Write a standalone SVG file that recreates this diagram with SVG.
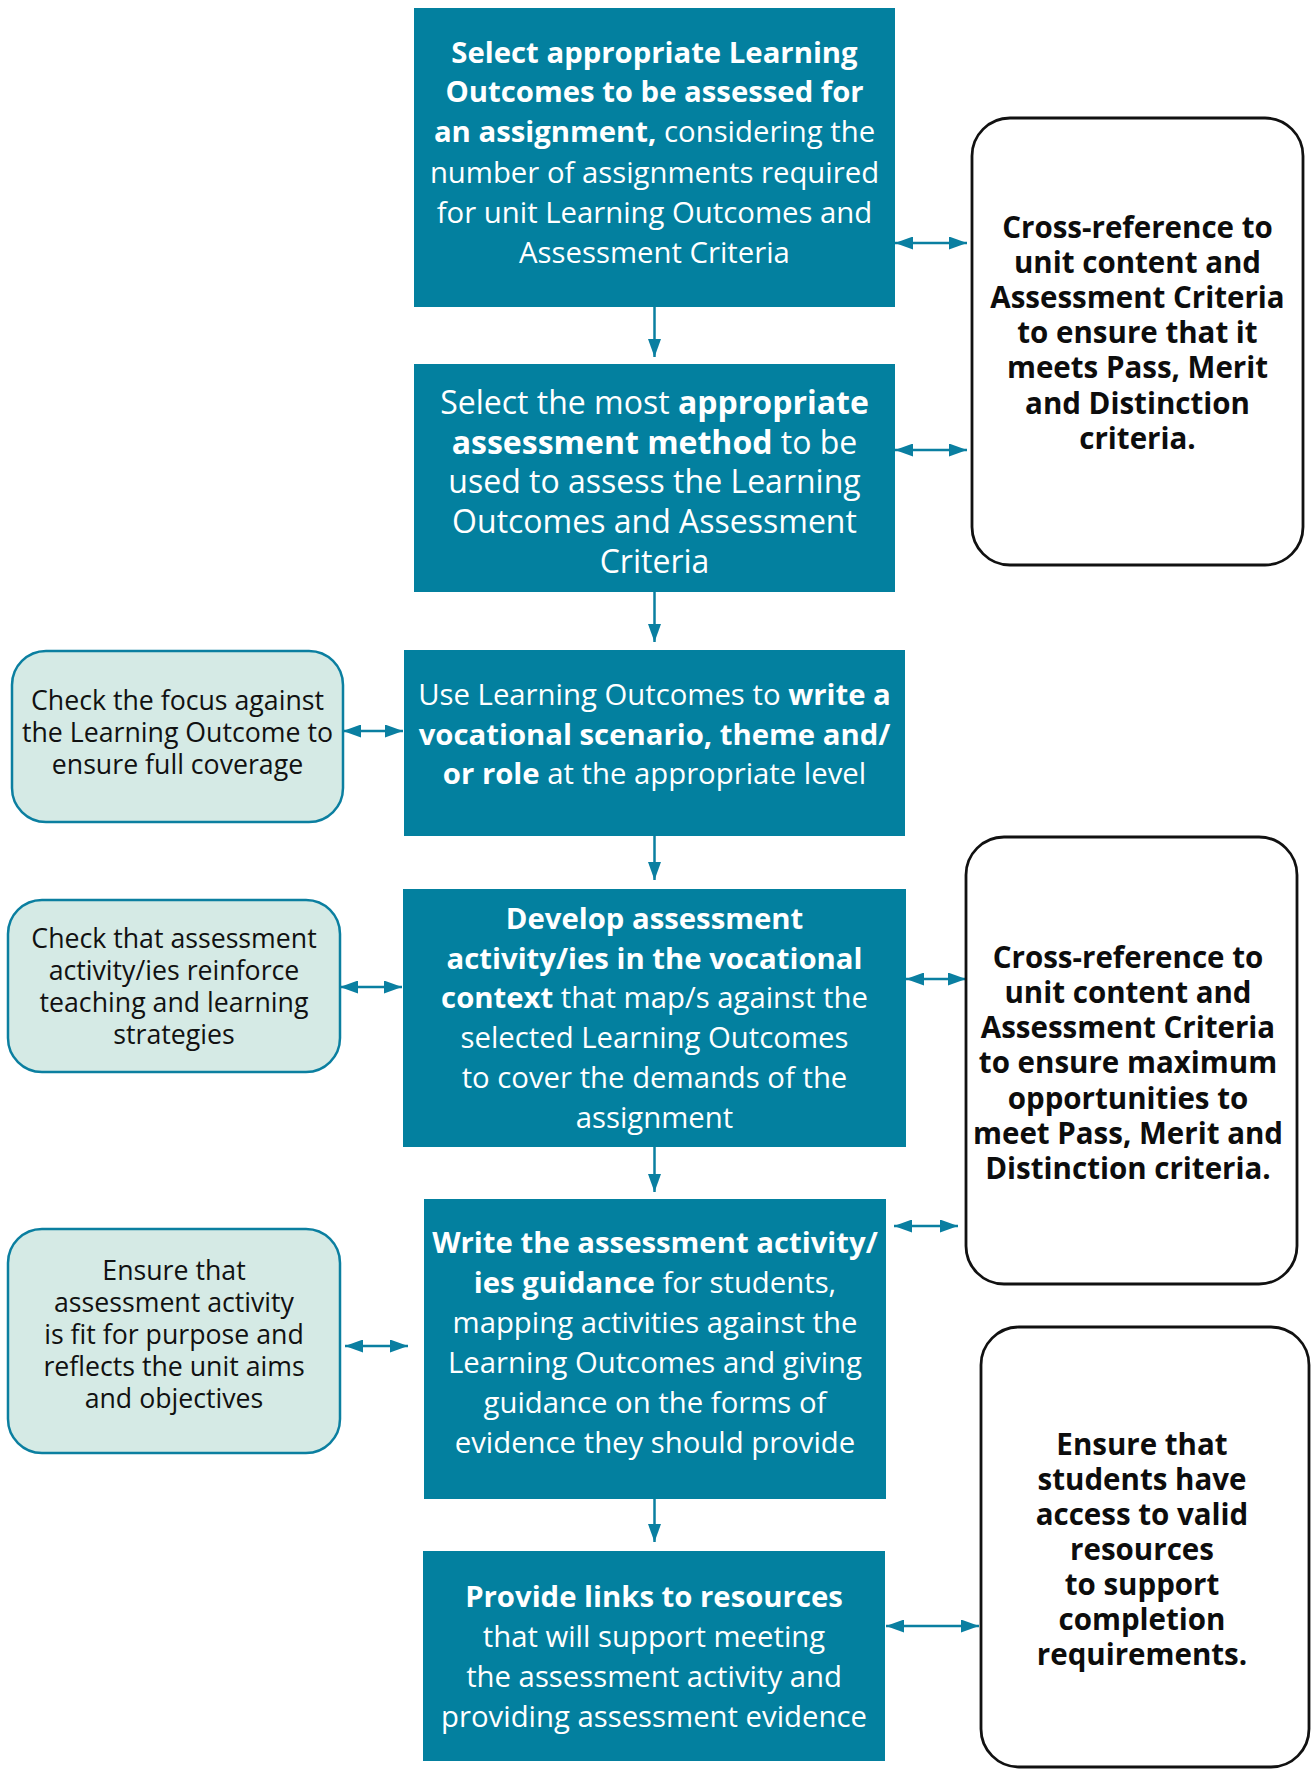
<svg xmlns="http://www.w3.org/2000/svg" width="1311" height="1769" viewBox="0 0 1311 1769">
<defs>
<marker id="ah" viewBox="0 0 18 13" refX="18" refY="6.5" markerUnits="userSpaceOnUse" markerWidth="18" markerHeight="13" orient="auto-start-reverse">
<path d="M0,0 L18,6.5 L0,13 z" fill="#0a7fa1"/>
</marker>
<style>
.main{fill:#03809f}
.wt{font-family:"Open Sans","Liberation Sans",sans-serif;font-size:29.3px;fill:#ffffff;text-anchor:middle}
.big{font-size:32px}
.b{font-weight:bold}
.side{fill:#d5eae5;stroke:#0b7fa0;stroke-width:2.5}
.st{font-family:"Open Sans","Liberation Sans",sans-serif;font-size:26.7px;fill:#111111;text-anchor:middle}
.note{fill:#ffffff;stroke:#111111;stroke-width:2.8}
.nt{font-family:"Open Sans","Liberation Sans",sans-serif;font-size:29.5px;font-weight:bold;fill:#0d0d0d;text-anchor:middle}
.c{fill:none;stroke:#0a7fa1;stroke-width:2.5}
</style>
</defs>
<rect width="1311" height="1769" fill="#ffffff"/>

<g id="connectors">
<line class="c" x1="654.5" y1="307" x2="654.5" y2="357" marker-end="url(#ah)"/>
<line class="c" x1="654.5" y1="592" x2="654.5" y2="642" marker-end="url(#ah)"/>
<line class="c" x1="654.5" y1="836" x2="654.5" y2="880" marker-end="url(#ah)"/>
<line class="c" x1="654.5" y1="1147" x2="654.5" y2="1192" marker-end="url(#ah)"/>
<line class="c" x1="654.5" y1="1499" x2="654.5" y2="1542" marker-end="url(#ah)"/>
<line class="c" x1="895" y1="243" x2="967" y2="243" marker-start="url(#ah)" marker-end="url(#ah)"/>
<line class="c" x1="895" y1="450" x2="967" y2="450" marker-start="url(#ah)" marker-end="url(#ah)"/>
<line class="c" x1="343" y1="731" x2="403" y2="731" marker-start="url(#ah)" marker-end="url(#ah)"/>
<line class="c" x1="340" y1="987" x2="402" y2="987" marker-start="url(#ah)" marker-end="url(#ah)"/>
<line class="c" x1="906" y1="979" x2="966" y2="979" marker-start="url(#ah)" marker-end="url(#ah)"/>
<line class="c" x1="894" y1="1226" x2="958" y2="1226" marker-start="url(#ah)" marker-end="url(#ah)"/>
<line class="c" x1="345" y1="1346" x2="408" y2="1346" marker-start="url(#ah)" marker-end="url(#ah)"/>
<line class="c" x1="886" y1="1626" x2="979" y2="1626" marker-start="url(#ah)" marker-end="url(#ah)"/>
</g>

<g id="step1">
<rect class="main" x="414" y="8" width="481" height="299"/>
<text class="wt b" x="654.5" y="63">Select appropriate Learning</text>
<text class="wt b" x="654.5" y="102">Outcomes to be assessed for</text>
<text class="wt" x="654.5" y="142"><tspan class="b">an assignment,</tspan> considering the</text>
<text class="wt" x="654.5" y="183">number of assignments required</text>
<text class="wt" x="654.5" y="223">for unit Learning Outcomes and</text>
<text class="wt" x="654.5" y="263">Assessment Criteria</text>
</g>

<g id="step2">
<rect class="main" x="414" y="364" width="481" height="228"/>
<text class="wt big" x="654.5" y="414">Select the most <tspan class="b">appropriate</tspan></text>
<text class="wt big" x="654.5" y="454"><tspan class="b">assessment method</tspan> to be</text>
<text class="wt big" x="654.5" y="493">used to assess the Learning</text>
<text class="wt big" x="654.5" y="533">Outcomes and Assessment</text>
<text class="wt big" x="654.5" y="573">Criteria</text>
</g>

<g id="step3">
<rect class="main" x="404" y="650" width="501" height="186"/>
<text class="wt" x="654.5" y="705">Use Learning Outcomes to <tspan class="b">write a</tspan></text>
<text class="wt b" x="654.5" y="745">vocational scenario, theme and/</text>
<text class="wt" x="654.5" y="784"><tspan class="b">or role</tspan> at the appropriate level</text>
</g>

<g id="step4">
<rect class="main" x="403" y="889" width="503" height="258"/>
<text class="wt b" x="654.5" y="929">Develop assessment</text>
<text class="wt b" x="654.5" y="969">activity/ies in the vocational</text>
<text class="wt" x="654.5" y="1008"><tspan class="b">context</tspan> that map/s against the</text>
<text class="wt" x="654.5" y="1048">selected Learning Outcomes</text>
<text class="wt" x="654.5" y="1088">to cover the demands of the</text>
<text class="wt" x="654.5" y="1128">assignment</text>
</g>

<g id="step5">
<rect class="main" x="424" y="1199" width="462" height="300"/>
<text class="wt b" x="655" y="1253">Write the assessment activity/</text>
<text class="wt" x="655" y="1293"><tspan class="b">ies guidance</tspan> for students,</text>
<text class="wt" x="655" y="1333">mapping activities against the</text>
<text class="wt" x="655" y="1373">Learning Outcomes and giving</text>
<text class="wt" x="655" y="1413">guidance on the forms of</text>
<text class="wt" x="655" y="1453">evidence they should provide</text>
</g>

<g id="step6">
<rect class="main" x="423" y="1551" width="462" height="210"/>
<text class="wt b" x="654" y="1607">Provide links to resources</text>
<text class="wt" x="654" y="1647">that will support meeting</text>
<text class="wt" x="654" y="1687">the assessment activity and</text>
<text class="wt" x="654" y="1727">providing assessment evidence</text>
</g>

<g id="check-focus">
<rect class="side" x="12" y="651" width="331" height="171" rx="34"/>
<text class="st" x="177.5" y="710">Check the focus against</text>
<text class="st" x="177.5" y="742">the Learning Outcome to</text>
<text class="st" x="177.5" y="774">ensure full coverage</text>
</g>

<g id="check-reinforce">
<rect class="side" x="8" y="900" width="332" height="172" rx="34"/>
<text class="st" x="174" y="948">Check that assessment</text>
<text class="st" x="174" y="980">activity/ies reinforce</text>
<text class="st" x="174" y="1012">teaching and learning</text>
<text class="st" x="174" y="1044">strategies</text>
</g>

<g id="ensure-fit">
<rect class="side" x="8" y="1229" width="332" height="224" rx="34"/>
<text class="st" x="174" y="1280">Ensure that</text>
<text class="st" x="174" y="1312">assessment activity</text>
<text class="st" x="174" y="1344">is fit for purpose and</text>
<text class="st" x="174" y="1376">reflects the unit aims</text>
<text class="st" x="174" y="1408">and objectives</text>
</g>

<g id="crossref-1">
<rect class="note" x="972" y="118" width="331" height="447" rx="38"/>
<text class="nt" x="1137.5" y="238">Cross-reference to</text>
<text class="nt" x="1137.5" y="273">unit content and</text>
<text class="nt" x="1137.5" y="308">Assessment Criteria</text>
<text class="nt" x="1137.5" y="343">to ensure that it</text>
<text class="nt" x="1137.5" y="378">meets Pass, Merit</text>
<text class="nt" x="1137.5" y="414">and Distinction</text>
<text class="nt" x="1137.5" y="449">criteria.</text>
</g>

<g id="crossref-2">
<rect class="note" x="966" y="837" width="331" height="447" rx="38"/>
<text class="nt" x="1128" y="968">Cross-reference to</text>
<text class="nt" x="1128" y="1003">unit content and</text>
<text class="nt" x="1128" y="1038">Assessment Criteria</text>
<text class="nt" x="1128" y="1073">to ensure maximum</text>
<text class="nt" x="1128" y="1109">opportunities to</text>
<text class="nt" x="1128" y="1144">meet Pass, Merit and</text>
<text class="nt" x="1128" y="1179">Distinction criteria.</text>
</g>

<g id="ensure-resources">
<rect class="note" x="981" y="1327" width="328" height="440" rx="38"/>
<text class="nt" x="1142" y="1455">Ensure that</text>
<text class="nt" x="1142" y="1490">students have</text>
<text class="nt" x="1142" y="1525">access to valid</text>
<text class="nt" x="1142" y="1560">resources</text>
<text class="nt" x="1142" y="1595">to support</text>
<text class="nt" x="1142" y="1630">completion</text>
<text class="nt" x="1142" y="1665">requirements.</text>
</g>
</svg>
